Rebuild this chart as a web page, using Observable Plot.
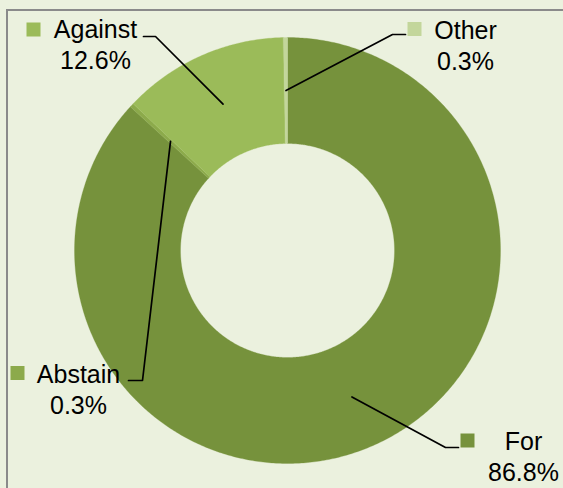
<!DOCTYPE html>
<html><head><meta charset="utf-8">
<script src="https://cdn.jsdelivr.net/npm/d3@7"></script>
<script src="https://cdn.jsdelivr.net/npm/@observablehq/plot@0.6"></script>
<style>
html,body{margin:0;padding:0;background:#ebf1de;width:563px;height:488px;overflow:hidden}
#frame{position:absolute;left:6px;top:9px;width:600px;height:600px;border-left:2px solid #8a8a8a;border-top:2px solid #8a8a8a;box-sizing:border-box}
#chart{position:absolute;left:0;top:0}
</style></head><body><div id="frame"></div><div id="chart"></div>
<script>
// Data
const categories = ["For", "Abstain", "Against", "Other"];
const values = [86.8, 0.3, 12.6, 0.3];
const valueLabels = ["86.8%", "0.3%", "12.6%", "0.3%"];
const colors = ["#76923c", "#8caa4b", "#9bbb59", "#c3d69b"];

// Layout (pixel positions in the picture; converted to centered chart units)
const W = 563, H = 488, CX = 287, CY = 250;
const R_OUT = 213, R_IN = 107, R_MID = 160;
const FONT = 25;
const layout = {
  For:     {elbow: [445, 447], end: [458, 447], square: [467, 440], text: [523, 446]},
  Abstain: {elbow: [142, 380], end: [128, 380], square: [17, 372.5], text: [78, 379]},
  Against: {elbow: [155, 36],  end: [143, 36],  square: [33, 29],   text: [95, 34]},
  Other:   {elbow: [392, 34],  end: [405, 34],  square: [414, 28.5], text: [465, 35]}
};
const px = (p) => ({x: p[0] - CX, y: p[1] - CY});

const table = categories.map((c, i) => ({cat: c, value: values[i], label: valueLabels[i], color: colors[i]}));
const arcs = d3.pie().sort(null).value(d => d.value).startAngle(0).endAngle(2 * Math.PI)(table);

const polar = (a, r) => ({x: Math.sin(a) * r, y: -Math.cos(a) * r});

// slice polygons
const slicePts = [];
for (const a of arcs) {
  const n = Math.max(2, Math.ceil((a.endAngle - a.startAngle) / 0.01));
  for (let k = 0; k <= n; k++) {
    const t = a.startAngle + (a.endAngle - a.startAngle) * k / n;
    slicePts.push({cat: a.data.cat, color: a.data.color, ...polar(t, R_OUT)});
  }
  for (let k = n; k >= 0; k--) {
    const t = a.startAngle + (a.endAngle - a.startAngle) * k / n;
    slicePts.push({cat: a.data.cat, color: a.data.color, ...polar(t, R_IN)});
  }
}

// leader lines
const leaderPts = [];
for (const a of arcs) {
  const L = layout[a.data.cat];
  const mid = (a.startAngle + a.endAngle) / 2;
  leaderPts.push({cat: a.data.cat, ...polar(mid, R_MID)});
  leaderPts.push({cat: a.data.cat, ...px(L.elbow)});
  leaderPts.push({cat: a.data.cat, ...px(L.end)});
}

const squares = table.map(d => ({...d, ...px(layout[d.cat].square)}));
const texts = table.map(d => {
  const p = px(layout[d.cat].text);
  return {...d, x: p.x, y: p.y - 0.71 * FONT, text: d.cat + "\n" + d.label};
});

const chart = Plot.plot({
  width: W, height: H,
  margin: 0,
  style: {background: "transparent"},
  x: {domain: [-CX, W - CX], range: [0, W], axis: null},
  y: {domain: [-CY, H - CY], range: [0, H], axis: null},
  color: {type: "identity"},
  marks: [
    Plot.line(slicePts, {x: "x", y: "y", z: "cat", fill: "color", stroke: "color", strokeWidth: 0.3, curve: "linear-closed"}),
    Plot.line(leaderPts, {x: "x", y: "y", z: "cat", stroke: "black", strokeWidth: 1.7}),
    Plot.dot(squares, {x: "x", y: "y", fill: "color", symbol: "square", r: 7.9}),
    Plot.text(texts, {x: "x", y: "y", text: "text", textAnchor: "middle", lineAnchor: "top", lineHeight: 1.22, fontSize: FONT, fontFamily: "Liberation Sans, Arial, sans-serif", fill: "black"})
  ]
});
document.getElementById("chart").appendChild(chart);
</script>
</body></html>
